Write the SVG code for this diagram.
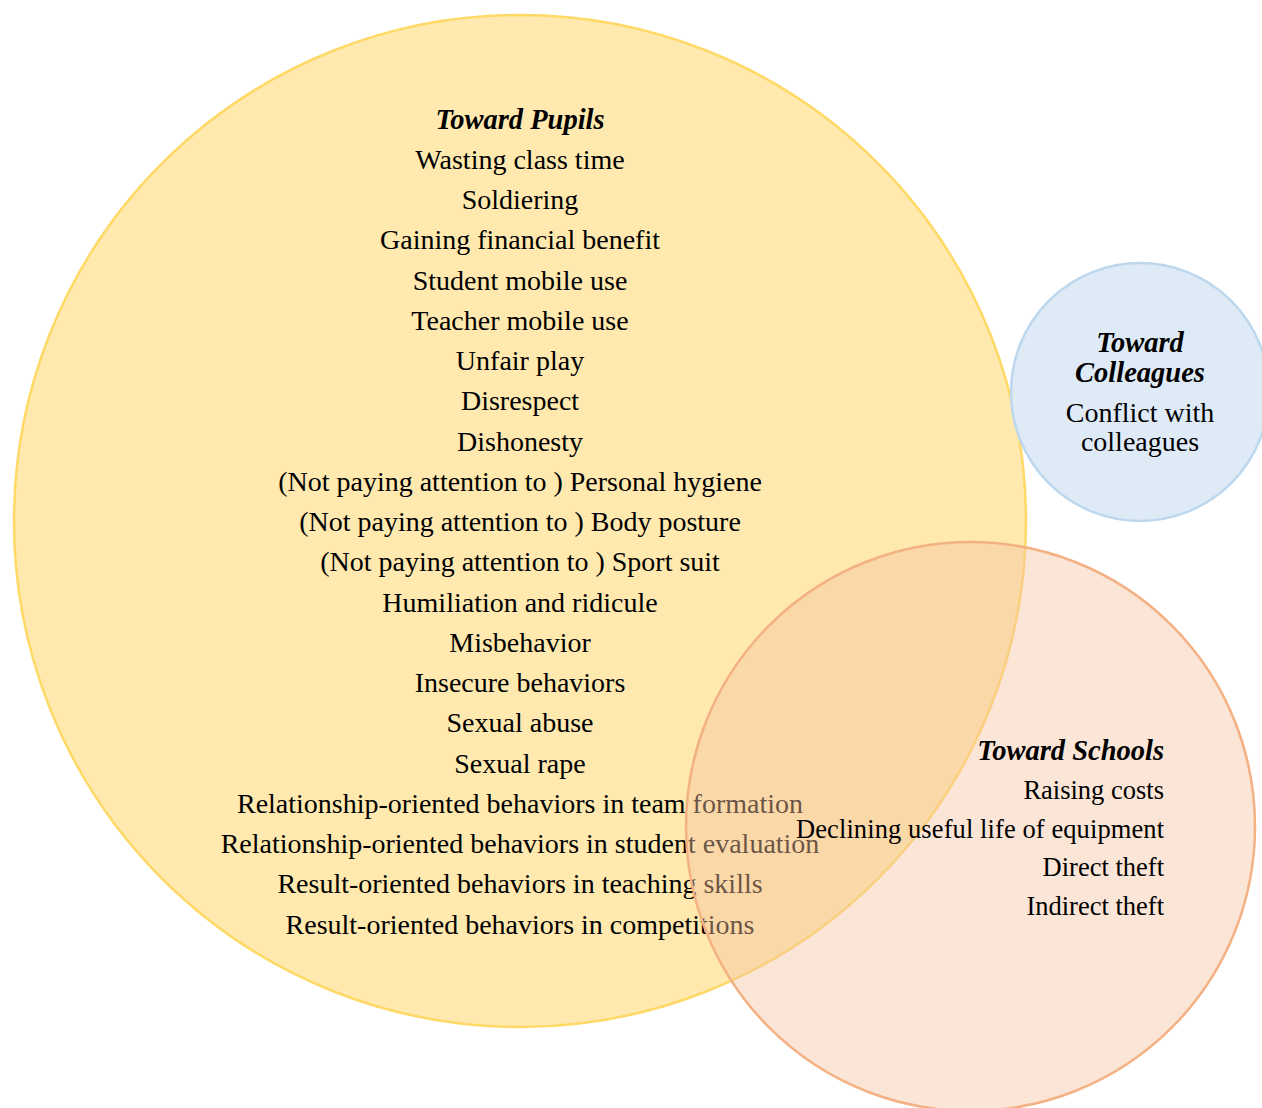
<svg xmlns="http://www.w3.org/2000/svg" width="1262" height="1108" viewBox="0 0 1262 1108">
<style>
text{font-family:"Liberation Serif","Times New Roman",serif;font-size:28px;fill:#000}
.h{font-weight:bold;font-style:italic;font-size:28.5px}
.c{text-anchor:middle}
.r{text-anchor:end}
.s{font-size:26.5px}
</style>
<rect width="1262" height="1108" fill="#fff"/>
<g id="pupils">
<circle cx="520" cy="521" r="506" fill="#FFE9AF" stroke="#FFD966" stroke-width="2.5"/>
<text class="c" x="520" y="128.5"><tspan class="h" x="520">Toward Pupils</tspan><tspan x="520" dy="40.25">Wasting class time</tspan><tspan x="520" dy="40.25">Soldiering</tspan><tspan x="520" dy="40.25">Gaining financial benefit</tspan><tspan x="520" dy="40.25">Student mobile use</tspan><tspan x="520" dy="40.25">Teacher mobile use</tspan><tspan x="520" dy="40.25">Unfair play</tspan><tspan x="520" dy="40.25">Disrespect</tspan><tspan x="520" dy="40.25">Dishonesty</tspan><tspan x="520" dy="40.25">(Not paying attention to ) Personal hygiene</tspan><tspan x="520" dy="40.25">(Not paying attention to ) Body posture</tspan><tspan x="520" dy="40.25">(Not paying attention to ) Sport suit</tspan><tspan x="520" dy="40.25">Humiliation and ridicule</tspan><tspan x="520" dy="40.25">Misbehavior</tspan><tspan x="520" dy="40.25">Insecure behaviors</tspan><tspan x="520" dy="40.25">Sexual abuse</tspan><tspan x="520" dy="40.25">Sexual rape</tspan><tspan x="520" dy="40.25">Relationship-oriented behaviors in team formation</tspan><tspan x="520" dy="40.25">Relationship-oriented behaviors in student evaluation</tspan><tspan x="520" dy="40.25">Result-oriented behaviors in teaching skills</tspan><tspan x="520" dy="40.25">Result-oriented behaviors in competitions</tspan></text>
</g>
<g id="colleagues">
<circle cx="1140" cy="392" r="129" fill="#DEEAF6" stroke="#BDD7EE" stroke-width="2.5"/>
<text class="c" x="1140" y="352"><tspan class="h" x="1140">Toward</tspan><tspan class="h" x="1140" dy="29.5">Colleagues</tspan><tspan x="1140" dy="40">Conflict with</tspan><tspan x="1140" dy="29.5">colleagues</tspan></text>
</g>
<g id="schools">
<circle cx="970.5" cy="826.5" r="284.5" fill="#F4C3A0" fill-opacity="0.43" stroke="#F4B183" stroke-width="2.5"/>
<text class="r h" x="1164" y="759.5">Toward Schools</text>
<text class="r s" x="1164" y="798.5">Raising costs</text>
<text class="s" x="796" y="837.5" textLength="368" lengthAdjust="spacing">Declining useful life of equipment</text>
<text class="r s" x="1164" y="876"><tspan x="1164">Direct theft</tspan><tspan x="1164" dy="38.5">Indirect theft</tspan></text>
</g>
<g id="connectors"></g>
</svg>
